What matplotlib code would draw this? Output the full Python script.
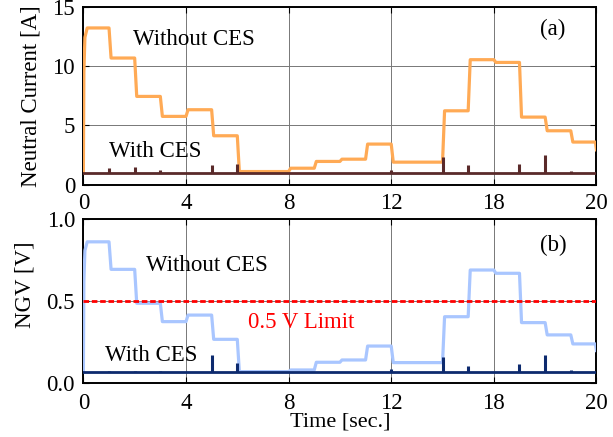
import numpy as np
import matplotlib
matplotlib.use('Agg')
import matplotlib.pyplot as plt

plt.rcParams['font.family'] = ['Liberation Serif', 'DejaVu Serif']

# one level per second, t = 0..20
step_t = np.arange(0, 21)
ia_without = [13.2, 10.67, 7.44, 5.76, 6.32, 4.13, 1.12, 1.12, 1.4, 1.97,
              2.16, 3.43, 1.91, 1.91, 6.23, 10.53, 10.3, 5.7, 4.55, 3.6]
ngv_without = [0.863, 0.695, 0.488, 0.376, 0.416, 0.268, 0.071, 0.071, 0.081, 0.128,
               0.142, 0.227, 0.126, 0.126, 0.406, 0.691, 0.671, 0.37, 0.295, 0.24]
ia_end = 2.95
ngv_end = 0.2

# start-up transient
rise_t = [0.0, 0.02, 0.06, 0.15]
ia_rise = [1.0, 9.5, 12.4, 13.2]
ngv_rise = [0.07, 0.62, 0.81, 0.863]

# with CES: flat level plus small spikes at switching instants
ia_with = 1.0
ngv_with = 0.067
spike_t = [1, 2, 3, 5, 6, 12, 14, 15, 17, 18, 19]
ia_spike = [1.4, 1.49, 1.26, 1.68, 1.77, 1.26, 2.38, 1.63, 1.74, 2.53, 1.18]
ngv_spike = [0.077, 0.077, 0.075, 0.173, 0.126, 0.085, 0.162, 0.105, 0.118, 0.173, 0.081]

xticks = [0, 4, 8, 12, 16, 20]
xticklabels = ['0', '4', '8', '12', '18', '20']


def stair(levels, rise_x, rise_y, end_val, ramp=0.08):
    x = list(rise_x)
    y = list(rise_y)
    for k in range(1, len(levels)):
        x += [step_t[k], step_t[k] + ramp]
        y += [levels[k - 1], levels[k]]
    x += [step_t[-1] - 0.04, step_t[-1]]
    y += [levels[-1], end_val]
    return x, y


def style(ax):
    ax.set_xlim(0, 20)
    ax.set_xticks(xticks)
    ax.set_xticklabels(xticklabels)
    ax.tick_params(direction='in', top=True, right=True, length=4,
                   labelsize=16.5, pad=6)
    ax.grid(True, color='#777777', linewidth=0.7)
    for s in ax.spines.values():
        s.set_linewidth(1.4)


fig = plt.figure(figsize=(6.13, 4.37), dpi=100)
ax1 = fig.add_axes([0.136, 0.577, 0.837, 0.408])
ax2 = fig.add_axes([0.136, 0.123, 0.837, 0.375])

# (a) neutral current
x, y = stair(ia_without, rise_t, ia_rise, ia_end)
ax1.plot(x, y, color='#FFAA55', lw=2.3, zorder=3)
ax1.plot([0, 20], [ia_with, ia_with], color='#5A2A2A', lw=2.0, zorder=4)
ax1.vlines(spike_t, ia_with, ia_spike, color='#5A2A2A', lw=2.2, zorder=4)
ax1.set_ylim(0, 15)
ax1.set_yticks([0, 5, 10, 15])
style(ax1)
ax1.set_ylabel('Neutral Current [A]', fontsize=16.5, labelpad=8)
ax1.text(4.3, 12.2, 'Without CES', fontsize=16.5, ha='center', va='center')
ax1.text(2.8, 2.8, 'With CES', fontsize=16.5, ha='center', va='center')
ax1.text(18.3, 13.1, '(a)', fontsize=16.5, ha='center', va='center')

# (b) neutral-to-ground voltage
x, y = stair(ngv_without, rise_t, ngv_rise, ngv_end)
ax2.plot(x, y, color='#A9C6FF', lw=2.3, zorder=3)
ax2.plot([0, 20], [ngv_with, ngv_with], color='#0D2A6E', lw=2.0, zorder=4)
ax2.vlines(spike_t, ngv_with, ngv_spike, color='#0D2A6E', lw=2.2, zorder=4)
ax2.axhline(0.5, color='#FF0000', lw=2.0, ls=(0, (2, 1)), zorder=5)
ax2.set_ylim(0, 1)
ax2.set_yticks([0, 0.5, 1.0])
ax2.set_yticklabels(['0.0', '0.5', '1.0'])
style(ax2)
ax2.tick_params(axis='x', pad=7)
ax2.set_ylabel('NGV [V]', fontsize=16.5, labelpad=8)
ax2.yaxis.set_label_coords(-0.094, 0.6)
ax2.set_xlabel('Time [sec.]', fontsize=16, va='top')
ax2.xaxis.set_label_coords(0.5, -0.178)
ax2.text(4.8, 0.72, 'Without CES', fontsize=16.5, ha='center', va='center')
ax2.text(2.65, 0.17, 'With CES', fontsize=16.5, ha='center', va='center')
ax2.text(8.5, 0.37, '0.5 V Limit', fontsize=16.5, color='#FF0000', ha='center', va='center')
ax2.text(18.3, 0.84, '(b)', fontsize=16.5, ha='center', va='center')

fig.savefig('out.png', dpi=100)
